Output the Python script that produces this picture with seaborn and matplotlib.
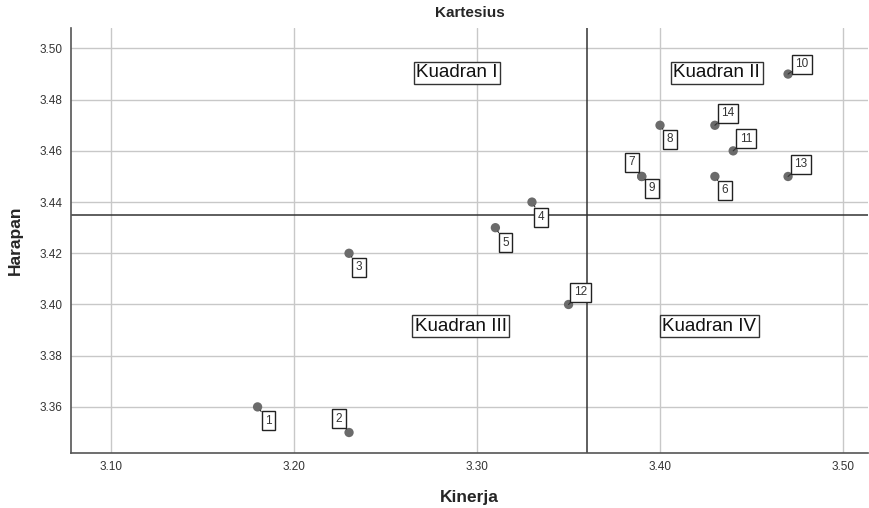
import matplotlib
matplotlib.use("Agg")
import matplotlib.pyplot as plt
import seaborn as sns
import pandas as pd

ids = [1, 2, 3, 4, 5, 6, 7, 8, 9, 10, 11, 12, 13, 14]
kinerja = [3.18, 3.23, 3.23, 3.33, 3.31, 3.43, 3.39, 3.40, 3.39, 3.47, 3.44, 3.35, 3.47, 3.43]
harapan = [3.36, 3.35, 3.42, 3.44, 3.43, 3.45, 3.45, 3.47, 3.45, 3.49, 3.46, 3.40, 3.45, 3.47]
mean_x = 3.36
mean_y = 3.435
quadrant_names = ["Kuadran I", "Kuadran II", "Kuadran III", "Kuadran IV"]
quadrant_x = [3.289, 3.431, 3.291, 3.427]
quadrant_y = [3.4905, 3.4905, 3.3915, 3.3915]
xticks = [3.10, 3.20, 3.30, 3.40, 3.50]
yticks = [3.36, 3.38, 3.40, 3.42, 3.44, 3.46, 3.48, 3.50]

# label offsets (pixels) relative to points
offsets = {1: (11, -14), 2: (-10, 14), 3: (10, -14), 4: (9, -15), 5: (10, -15),
           6: (10, -14), 7: (-10, 14), 8: (10, -14), 9: (10, -12), 10: (14, 10),
           11: (13, 12), 12: (12, 12), 13: (13, 12), 14: (13, 12)}

df = pd.DataFrame({"id": ids, "Kinerja": kinerja, "Harapan": harapan})

sns.set_style("white")
plt.rcParams["font.family"] = ["Liberation Sans", "DejaVu Sans"]
fig = plt.figure(figsize=(8.7, 5.08), dpi=100)
ax = fig.add_axes([0.0816, 0.1083, 0.9161, 0.8366])

ax.set_xlim(3.078, 3.5137)
ax.set_ylim(3.342, 3.508)
ax.set_xticks(xticks)
ax.set_yticks(yticks)
ax.set_xticklabels([f"{t:.2f}" for t in xticks])
ax.set_yticklabels([f"{t:.2f}" for t in yticks])
ax.grid(True, color="#c8c8c8", linewidth=1.0)
ax.set_axisbelow(True)

sns.scatterplot(data=df, x="Kinerja", y="Harapan", ax=ax, color="#6b6b6b",
                s=45, edgecolor="none", zorder=3)

ax.axvline(mean_x, color="#333333", linewidth=1.1, zorder=2)
ax.axhline(mean_y, color="#333333", linewidth=1.1, zorder=2)

for i, x, y in zip(ids, kinerja, harapan):
    dx, dy = offsets[i]
    ax.annotate(str(i), (x, y), xytext=(dx * 0.72, dy * 0.72), textcoords="offset points",
                ha="center", va="center", fontsize=8.5, color="#333333",
                bbox=dict(boxstyle="square,pad=0.3", fc="white", ec="#222222", lw=1.0),
                arrowprops=dict(arrowstyle="-", color="#333333", lw=0.8, shrinkA=0, shrinkB=3),
                zorder=4)

for name, qx, qy in zip(quadrant_names, quadrant_x, quadrant_y):
    ax.text(qx, qy, name, ha="center", va="center", fontsize=13.5, color="#111111",
            bbox=dict(boxstyle="square,pad=0.14", fc="white", ec="#333333", lw=1.0), zorder=4)

for s in ["top", "right"]:
    ax.spines[s].set_visible(False)
for s in ["left", "bottom"]:
    ax.spines[s].set_color("#555555")
    ax.spines[s].set_linewidth(1.2)

ax.tick_params(axis="both", labelsize=8.5, colors="#333333", length=0, pad=6)
ax.set_xlabel("Kinerja", fontsize=12.5, fontweight="bold", labelpad=12)
ax.set_ylabel("Harapan", fontsize=12.5, fontweight="bold", labelpad=12)
ax.set_title("Kartesius", fontsize=11, fontweight="bold", pad=8)

fig.savefig("out.png", dpi=100)
